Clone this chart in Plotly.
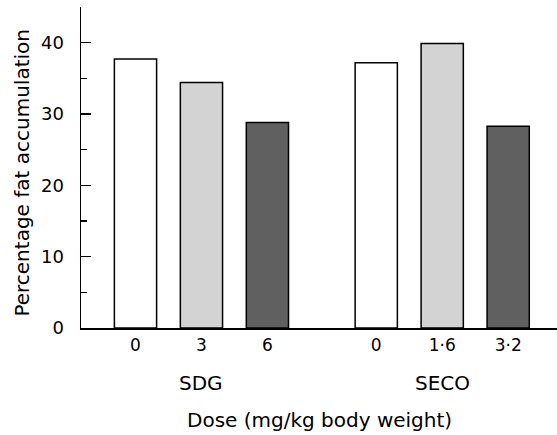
import plotly.graph_objects as go

doses = ["0", "3", "6", "0", "1·6", "3·2"]
positions = [0, 1, 2, 3.65, 4.65, 5.65]
values = [37.7, 34.4, 28.8, 37.2, 39.9, 28.3]
colors = ["#ffffff", "#d3d3d3", "#606060", "#ffffff", "#d3d3d3", "#606060"]
groups = ["SDG", "SECO"]
group_centers = [1, 4.65]
x_title = "Dose (mg/kg body weight)"
y_title = "Percentage fat accumulation"

FONT = "DejaVu Sans, Liberation Sans, sans-serif"

fig = go.Figure()
fig.add_trace(go.Bar(
    x=positions, y=values, width=0.64,
    marker=dict(color=colors, line=dict(color="black", width=1.5)),
    showlegend=False, hoverinfo="skip",
))

for g, c in zip(groups, group_centers):
    fig.add_annotation(x=c, y=-0.171, xref="x", yref="paper", text=g,
                       showarrow=False, font=dict(size=20, color="black", family=FONT),
                       yanchor="middle", xanchor="center")

fig.add_annotation(x=0.5, y=-0.2866, xref="paper", yref="paper", text=x_title,
                   showarrow=False, font=dict(size=20, color="black", family=FONT),
                   yanchor="middle", xanchor="center")
fig.add_annotation(x=-0.124, y=0.484, xref="paper", yref="paper", text=y_title,
                   textangle=-90, showarrow=False,
                   font=dict(size=20, color="black", family=FONT),
                   yanchor="middle", xanchor="center")

fig.update_layout(
    width=557, height=435,
    margin=dict(l=81, r=0, t=7, b=107),
    plot_bgcolor="white", paper_bgcolor="white",
    font=dict(family=FONT, size=17, color="black"),
    xaxis=dict(
        range=[-0.826, 6.39], tickvals=positions, ticktext=doses,
        showline=True, linecolor="black", linewidth=1.5, ticks="",
        showgrid=False, zeroline=False, ticklabelstandoff=1,
        automargin=False, tickfont=dict(size=17),
    ),
    yaxis=dict(
        range=[0, 45], tickvals=[0, 10, 20, 30, 40],
        showline=True, linecolor="black", linewidth=1.5,
        ticks="inside", ticklen=10, tickwidth=1.2, tickcolor="black",
        minor=dict(tickvals=[5, 15, 25, 35, 45], ticks="inside", ticklen=6,
                   tickwidth=1.2, tickcolor="black"),
        showgrid=False, zeroline=False, ticklabelstandoff=12,
        automargin=False, tickfont=dict(size=18),
    ),
    bargap=0,
)

fig.write_html(
    "out.html",
    config={"displayModeBar": False, "staticPlot": True},
    post_script="document.body.style.margin='0';document.body.style.padding='0';document.body.style.overflow='hidden';",
)
